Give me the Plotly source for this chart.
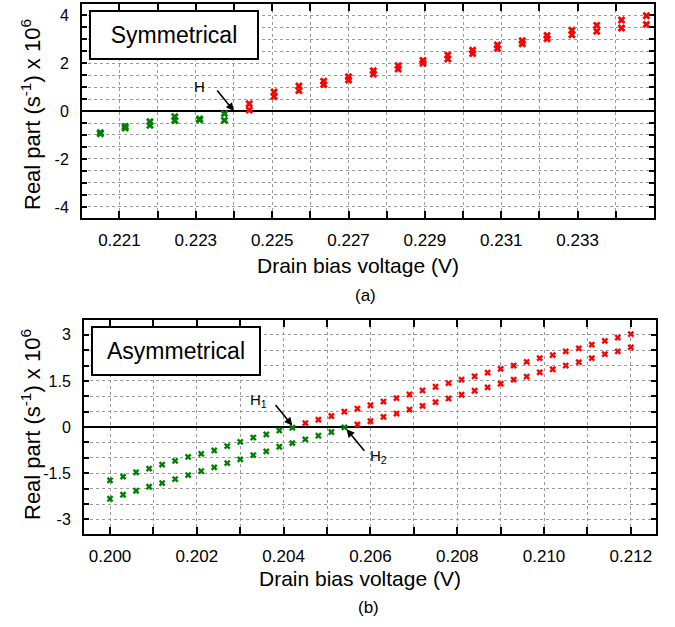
import plotly.graph_objects as go

# ---- (a) symmetrical structure: two eigenvalue branches vs drain bias ----
sym_v = [0.22050, 0.22115, 0.22180, 0.22245, 0.22310, 0.22375, 0.22440, 0.22505,
         0.22570, 0.22635, 0.22700, 0.22765, 0.22830, 0.22895, 0.22960, 0.23025,
         0.23090, 0.23155, 0.23220, 0.23285, 0.23350, 0.23415, 0.23480]
sym_re1 = [-0.90, -0.64, -0.45, -0.24, -0.33, -0.11, 0.30, 0.79, 1.04, 1.24, 1.43, 1.68,
           1.89, 2.11, 2.33, 2.53, 2.75, 2.93, 3.15, 3.37, 3.57, 3.79, 3.97]
sym_re2 = [-0.95, -0.71, -0.60, -0.40, -0.37, -0.39, 0.04, 0.60, 0.85, 1.10, 1.29, 1.54,
           1.75, 1.99, 2.17, 2.40, 2.61, 2.80, 3.01, 3.18, 3.32, 3.46, 3.61]

# ---- (b) asymmetrical structure ----
asym_v = [round(0.200 + 0.0003 * k, 4) for k in range(41)]
asym_re1 = [-1.73, -1.61, -1.47, -1.35, -1.22, -1.10, -0.97, -0.87, -0.76, -0.62,
            -0.48, -0.34, -0.24, -0.11, -0.02, 0.13, 0.24, 0.36, 0.50, 0.60,
            0.71, 0.83, 0.94, 1.06, 1.19, 1.31, 1.43, 1.54, 1.65, 1.77,
            1.89, 2.00, 2.12, 2.24, 2.34, 2.46, 2.56, 2.68, 2.80, 2.91, 3.02]
asym_re2 = [-2.33, -2.20, -2.07, -1.94, -1.82, -1.69, -1.56, -1.43, -1.31, -1.17,
            -1.05, -0.91, -0.79, -0.64, -0.52, -0.40, -0.28, -0.16, -0.01, 0.085,
            0.19, 0.33, 0.44, 0.57, 0.69, 0.81, 0.93, 1.05, 1.18, 1.29,
            1.41, 1.54, 1.64, 1.78, 1.88, 2.00, 2.11, 2.24, 2.37, 2.46, 2.59]

# tick positions / labels
sym_xticks = [0.221 + 0.001 * i for i in range(14)]
sym_xlabels = ["0.221", "", "0.223", "", "0.225", "", "0.227", "", "0.229", "",
               "0.231", "", "0.233", ""]
sym_yticks = [-4 + 0.5 * i for i in range(17)]
sym_ylabels = ["-4", "", "", "", "-2", "", "", "", "0", "", "", "", "2", "", "", "", "4"]

asym_xticks = [0.200 + 0.001 * i for i in range(13)]
asym_xlabels = ["0.200", "", "0.202", "", "0.204", "", "0.206", "", "0.208", "",
                "0.210", "", "0.212"]
asym_yticks = [-3 + 0.5 * i for i in range(13)]
asym_ylabels = ["-3", "", "", "-1.5", "", "", "0", "", "", "1.5", "", "", "3"]

GREEN = "#008000"
RED = "#ff0000"
FONT = "Liberation Sans, Arial, sans-serif"
W, H = 675, 627


def px_x(p):
    return p / W


def px_y(p):
    return 1 - p / H


def colors(vals):
    return [GREEN if v < 0 else RED for v in vals]


fig = go.Figure()

for ys in (sym_re1, sym_re2):
    fig.add_trace(go.Scatter(x=sym_v, y=ys, mode="markers", xaxis="x", yaxis="y",
                             marker=dict(symbol="x", size=7, color=colors(ys),
                                         line=dict(width=0)),
                             showlegend=False))
for ys in (asym_re1, asym_re2):
    fig.add_trace(go.Scatter(x=asym_v, y=ys, mode="markers", xaxis="x2", yaxis="y2",
                             marker=dict(symbol="x", size=6, color=colors(ys),
                                         line=dict(width=0)),
                             showlegend=False))


def xaxis(domain, rng, tv, tt, anchor):
    return dict(domain=domain, range=rng, anchor=anchor, tickvals=tv, ticktext=tt,
                ticks="inside", ticklen=7, tickwidth=1.5, tickcolor="black",
                showline=True, linewidth=2, linecolor="black", mirror="ticks",
                showgrid=True, gridcolor="#9a9a9a", griddash="dot", gridwidth=1,
                zeroline=False, tickfont=dict(family=FONT, size=17, color="black"),
                ticklabelstandoff=6, automargin=False)


def yaxis(domain, rng, tv, tt, anchor):
    return dict(domain=domain, range=rng, anchor=anchor, tickvals=tv, ticktext=tt,
                ticks="inside", ticklen=5, tickwidth=1.5, tickcolor="black",
                showline=True, linewidth=2, linecolor="black", mirror="ticks",
                showgrid=True, gridcolor="#9a9a9a", griddash="dot", gridwidth=1,
                zeroline=True, zerolinecolor="black", zerolinewidth=1.5,
                tickfont=dict(family=FONT, size=16, color="black"),
                ticklabelstandoff=8, automargin=False)


fig.update_layout(
    width=W, height=H,
    margin=dict(l=0, r=0, t=0, b=0),
    paper_bgcolor="white", plot_bgcolor="white",
    xaxis=xaxis([px_x(82), px_x(654)], [0.22002, 0.23500], sym_xticks, sym_xlabels, "y"),
    yaxis=yaxis([px_y(218), px_y(4)], [-4.46, 4.46], sym_yticks, sym_ylabels, "x"),
    xaxis2=xaxis([px_x(84), px_x(656)], [0.19940, 0.21258], asym_xticks, asym_xlabels, "y2"),
    yaxis2=yaxis([px_y(534), px_y(320)], [-3.475, 3.48], asym_yticks, asym_ylabels, "x2"),
)

ann = []
tfont = dict(family=FONT, size=21, color="black")
yfont = dict(family=FONT, size=22, color="black")
centered = dict(xref="paper", yref="paper", xanchor="center", yanchor="middle",
                showarrow=False)
# axis titles
for cx, cy in ((358, 265), (360, 578)):
    ann.append(dict(text="Drain bias voltage (V)", x=px_x(cx), y=px_y(cy),
                    font=tfont, **centered))
for cx, cy in ((31, 115), (31, 425)):
    ann.append(dict(text="Real part (s<sup>-1</sup>) x 10<sup>6</sup>", x=px_x(cx),
                    y=px_y(cy), textangle=-90, font=yfont, **centered))
# sub-figure captions
ann.append(dict(text="(a)", x=px_x(365), y=px_y(295),
                font=dict(family=FONT, size=17, color="black"), **centered))
ann.append(dict(text="(b)", x=px_x(368), y=px_y(607),
                font=dict(family=FONT, size=17, color="black"), **centered))
# boxed structure labels
ann.append(dict(text="Symmetrical", x=px_x(174), y=px_y(35),
                font=dict(family=FONT, size=23, color="black"),
                bgcolor="white", bordercolor="black", borderwidth=2,
                width=164, height=44, borderpad=1, **centered))
ann.append(dict(text="Asymmetrical", x=px_x(176), y=px_y(351),
                font=dict(family=FONT, size=23, color="black"),
                bgcolor="white", bordercolor="black", borderwidth=2,
                width=164, height=44, borderpad=1, **centered))
# Hopf points
arrow = dict(showarrow=True, arrowhead=2, arrowsize=1, arrowwidth=1.6,
             arrowcolor="black", text="", standoff=0, startstandoff=0)
ann.append(dict(x=0.2240, y=0.0, xref="x", yref="y", ax=-18, ay=-22, **arrow))
ann.append(dict(text="H", x=0.22311, y=1.01, xref="x", yref="y", showarrow=False,
                font=dict(family=FONT, size=15, color="black")))
ann.append(dict(x=0.2042, y=0.05, xref="x2", yref="y2", ax=-18, ay=-22, **arrow))
ann.append(dict(text="H<sub>1</sub>", x=0.20342, y=0.86, xref="x2", yref="y2",
                showarrow=False, font=dict(family=FONT, size=15, color="black")))
ann.append(dict(x=0.20545, y=-0.07, xref="x2", yref="y2", ax=19, ay=23, **arrow))
ann.append(dict(text="H<sub>2</sub>", x=0.20618, y=-0.95, xref="x2", yref="y2",
                showarrow=False, font=dict(family=FONT, size=15, color="black")))

fig.update_layout(annotations=ann)
fig.write_html("out.html")
